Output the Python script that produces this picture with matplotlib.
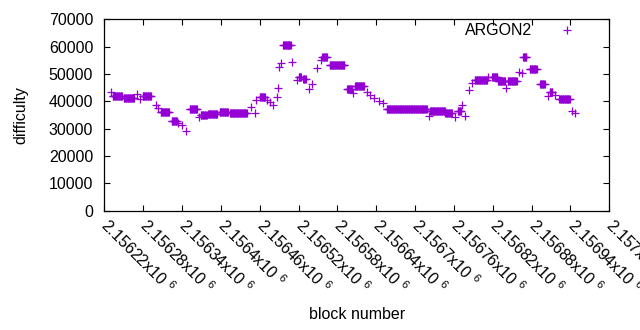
import numpy as np
import matplotlib
matplotlib.use('Agg')
from matplotlib import pyplot as plt

plt.rcParams['font.family'] = ['Liberation Sans', 'DejaVu Sans']
plt.rcParams['mathtext.fontset'] = 'custom'
plt.rcParams['mathtext.rm'] = 'Liberation Sans'

# runs of blocks with the same difficulty: first block, last block, difficulty
run_start = [2156230, 2156233, 2156250, 2156270, 2156275, 2156279, 2156300, 2156303,
             2156307, 2156324, 2156334, 2156340, 2156346, 2156352, 2156366, 2156369,
             2156380, 2156398, 2156414, 2156446, 2156452, 2156455, 2156460, 2156471,
             2156476, 2156480, 2156486, 2156488, 2156490, 2156493, 2156496, 2156510,
             2156517, 2156520, 2156527, 2156536, 2156541, 2156548, 2156554, 2156557,
             2156568, 2156595, 2156604, 2156607, 2156625, 2156630, 2156636, 2156644,
             2156650, 2156656, 2156721, 2156723, 2156747, 2156761, 2156766, 2156772,
             2156777, 2156783, 2156788, 2156792, 2156812, 2156819, 2156828, 2156840,
             2156843, 2156860, 2156865, 2156867, 2156877, 2156893, 2156905, 2156908,
             2156916, 2156923, 2156942, 2156947]
run_end = [2156230, 2156247, 2156266, 2156270, 2156275, 2156292, 2156300, 2156303,
           2156320, 2156332, 2156334, 2156340, 2156346, 2156363, 2156366, 2156378,
           2156394, 2156411, 2156440, 2156446, 2156452, 2156455, 2156468, 2156471,
           2156476, 2156480, 2156486, 2156488, 2156490, 2156493, 2156508, 2156510,
           2156517, 2156524, 2156531, 2156536, 2156541, 2156548, 2156554, 2156564,
           2156591, 2156602, 2156604, 2156621, 2156625, 2156630, 2156636, 2156644,
           2156650, 2156718, 2156721, 2156746, 2156757, 2156761, 2156771, 2156772,
           2156777, 2156783, 2156788, 2156811, 2156812, 2156827, 2156839, 2156840,
           2156857, 2156860, 2156865, 2156872, 2156888, 2156900, 2156905, 2156912,
           2156916, 2156939, 2156942, 2156947]
run_diff = [43500, 42000, 41200, 42600, 41000, 42000, 38600, 37500,
            36200, 32900, 32000, 31300, 29300, 37200, 34200, 35000,
            35400, 36200, 35900, 37900, 35900, 40500, 41500, 40500,
            39600, 38500, 41700, 44700, 52600, 54100, 60400, 54400,
            47800, 48700, 48200, 44400, 46300, 52200, 55000, 56000,
            53100, 44400, 43000, 45600, 43500, 42300, 41100, 40200,
            39300, 37100, 34600, 36400, 35600, 34400, 36400, 38600,
            34600, 44100, 46800, 47800, 49000, 48700, 47400, 44700,
            47500, 50800, 50400, 56000, 51900, 46300, 41900, 43400,
            42300, 40700, 36600, 35600]

blocks = []
diffs = []
for s, e, d in zip(run_start, run_end, run_diff):
    for b in range(s, e + 1):
        blocks.append(b)
        diffs.append(d)

xticks = list(range(2156220, 2157001, 60))
xlabels = ['%sx10 $^{6}$' % ('%g' % (t / 1e6)) for t in xticks]

FS = 11.5
fig = plt.figure(figsize=(6.4, 3.3), dpi=100)
ax = fig.add_axes([0.163, 0.361, 0.789, 0.581])
ax.plot(blocks, diffs, '+', color='#9400D3', markersize=5.5, markeredgewidth=0.9,
        label='ARGON2')

ax.set_xlim(2156220, 2157000)
ax.set_ylim(0, 70000)
ax.set_yticks(range(0, 70001, 10000))
ax.set_xticks(xticks)
ax.set_xticklabels(xlabels, rotation=-45, ha='left', va='center', rotation_mode='anchor')
ax.tick_params(direction='in', length=4, top=True, right=True, labelsize=FS,
               color='black', width=0.8)
ax.tick_params(axis='x', pad=8)
ax.tick_params(axis='y', pad=8)
for sp in ax.spines.values():
    sp.set_linewidth(0.9)

ax.set_ylabel('difficulty', fontsize=FS, labelpad=15)
ax.set_xlabel('block number', fontsize=FS)
ax.xaxis.set_label_coords(0.5, -0.5)

ax.legend(loc='upper right', markerfirst=False, frameon=False, fontsize=FS,
          handlelength=1.0, handletextpad=1.7, borderpad=0, borderaxespad=0,
          bbox_to_anchor=(0.932, 0.979))

fig.savefig('out.png', dpi=100)
